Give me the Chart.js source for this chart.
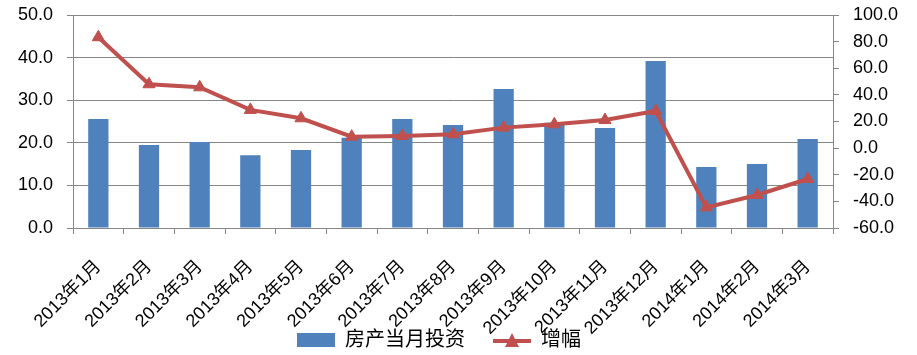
<!DOCTYPE html>
<html>
<head>
<meta charset="utf-8">
<script src="https://cdn.jsdelivr.net/npm/chart.js@4/dist/chart.umd.min.js"></script>
<style>
  html, body { margin: 0; padding: 0; background: #fff; }
  #wrap { width: 917px; height: 355px; }
</style>
</head>
<body>
<div id="wrap"><canvas id="chart" width="917" height="355"></canvas></div>
<script>
// Chart data
const months = ['2013年1月', '2013年2月', '2013年3月', '2013年4月', '2013年5月', '2013年6月',
    '2013年7月', '2013年8月', '2013年9月', '2013年10月', '2013年11月', '2013年12月',
    '2014年1月', '2014年2月', '2014年3月'];
const investment = [25.6, 19.5, 20.2, 17.1, 18.3, 21.2, 25.6, 24.2, 32.6, 24.7, 23.5, 39.2, 14.3, 15.0, 20.9];
const growth = [83.3, 48.0, 45.7, 28.7, 22.4, 8.6, 9.1, 10.4, 15.4, 17.9, 21.1, 27.9, -44.5, -35.2, -23.2];
const leftTicks = [0, 10, 20, 30, 40, 50];
const rightTicks = [-60, -40, -20, 0, 20, 40, 60, 80, 100];

const BLUE = '#4F81BD';
const RED = '#C0504D';
const GRID = '#868686';
const FONT = '"Liberation Sans", "Noto Sans CJK SC", sans-serif';

const PLOT_TOP = 15;
const PLOT_BOTTOM = 228;
const LEGEND_X = 297;
const LEGEND_Y = 340;

// Legend swatches drawn like the office chart: a wide box and a line with a triangle
function makeBarSwatch() {
    const c = document.createElement('canvas');
    c.width = 38; c.height = 14;
    const g = c.getContext('2d');
    g.fillStyle = BLUE;
    g.fillRect(0, 0, 38, 14);
    return c;
}

function makeLineSwatch() {
    const c = document.createElement('canvas');
    c.width = 38; c.height = 16;
    const g = c.getContext('2d');
    g.strokeStyle = RED;
    g.lineWidth = 4;
    g.beginPath();
    g.moveTo(0, 9); g.lineTo(38, 9);
    g.stroke();
    g.fillStyle = RED;
    g.beginPath();
    g.moveTo(19, 1); g.lineTo(26, 15); g.lineTo(12, 15);
    g.closePath();
    g.fill();
    return c;
}

const barSwatch = makeBarSwatch();
const lineSwatch = makeLineSwatch();

// the legend sits over the rotated labels area, so it takes no layout room
const legendPlace = {
    id: 'legendPlace',
    beforeLayout(chart) {
        const lg = chart.legend;
        if (lg && !lg._noRoom) {
            const fit = lg.fit;
            lg.fit = function () {
                fit.call(this);
                this._realHeight = this.height;
                this.height = 0;
            };
            lg._noRoom = true;
        }
    },
    afterLayout(chart) {
        const lg = chart.legend;
        const w = lg.right - lg.left;
        const pad = lg.options.labels.padding;
        lg.left = LEGEND_X - pad;
        lg.right = lg.left + w;
        lg.top = LEGEND_Y - pad - 10;
        lg.bottom = lg.top + (lg._realHeight || 0);
    }
};

// keep the plot box fixed, labels may overflow
function noPadding(scale) {
    scale.paddingTop = 0;
    scale.paddingBottom = 0;
    scale.paddingLeft = 0;
    scale.paddingRight = 0;
}

new Chart(document.getElementById('chart'), {
    type: 'bar',
    data: {
        labels: months,
        datasets: [
            {
                type: 'line',
                label: '增幅',
                data: growth,
                yAxisID: 'y1',
                borderColor: RED,
                backgroundColor: RED,
                borderWidth: 4,
                pointStyle: 'triangle',
                pointRadius: 7,
                pointHoverRadius: 7,
                pointBorderWidth: 1,
                tension: 0,
                order: 0
            },
            {
                type: 'bar',
                label: '房产当月投资',
                data: investment,
                yAxisID: 'y',
                backgroundColor: BLUE,
                barPercentage: 0.4,
                categoryPercentage: 1.0,
                order: 1
            }
        ]
    },
    options: {
        responsive: false,
        animation: false,
        layout: { padding: { top: PLOT_TOP, right: 0, left: 0, bottom: 0 } },
        plugins: {
            tooltip: { enabled: false },
            legend: {
                position: 'bottom',
                align: 'start',
                reverse: true,
                labels: {
                    usePointStyle: true,
                    pointStyleWidth: 38,
                    padding: 28,
                    color: '#000',
                    font: { family: FONT, size: 20 },
                    generateLabels(chart) {
                        const items = Chart.defaults.plugins.legend.labels.generateLabels(chart);
                        items.forEach(it => {
                            it.pointStyle = it.datasetIndex === 0 ? lineSwatch : barSwatch;
                        });
                        return items;
                    }
                }
            }
        },
        scales: {
            x: {
                offset: true,
                grid: {
                    offset: true,
                    drawOnChartArea: false,
                    color: GRID,
                    tickLength: 6
                },
                border: { color: GRID, width: 1 },
                ticks: {
                    color: '#000',
                    font: { family: FONT, size: 18 },
                    minRotation: 45,
                    maxRotation: 45,
                    autoSkip: false,
                    padding: 22
                },
                afterFit(scale) {
                    scale.height = 355 - PLOT_BOTTOM;
                    noPadding(scale);
                }
            },
            y: {
                position: 'left',
                min: 0,
                max: 50,
                afterBuildTicks(scale) { scale.ticks = leftTicks.map(v => ({ value: v })); },
                grid: { color: GRID, tickLength: 6 },
                border: { color: GRID, width: 1 },
                ticks: {
                    color: '#000',
                    font: { family: FONT, size: 18 },
                    padding: 14,
                    callback: v => v.toFixed(1)
                },
                afterFit(scale) {
                    scale.width = 73;
                    noPadding(scale);
                }
            },
            y1: {
                position: 'right',
                min: -60,
                max: 100,
                afterBuildTicks(scale) { scale.ticks = rightTicks.map(v => ({ value: v })); },
                grid: { drawOnChartArea: false, color: GRID, tickLength: 6 },
                border: { color: GRID, width: 1 },
                ticks: {
                    color: '#000',
                    font: { family: FONT, size: 18 },
                    padding: 14,
                    callback: v => v.toFixed(1)
                },
                afterFit(scale) {
                    scale.width = 84;
                    noPadding(scale);
                }
            }
        }
    },
    plugins: [legendPlace]
});
</script>
</body>
</html>
